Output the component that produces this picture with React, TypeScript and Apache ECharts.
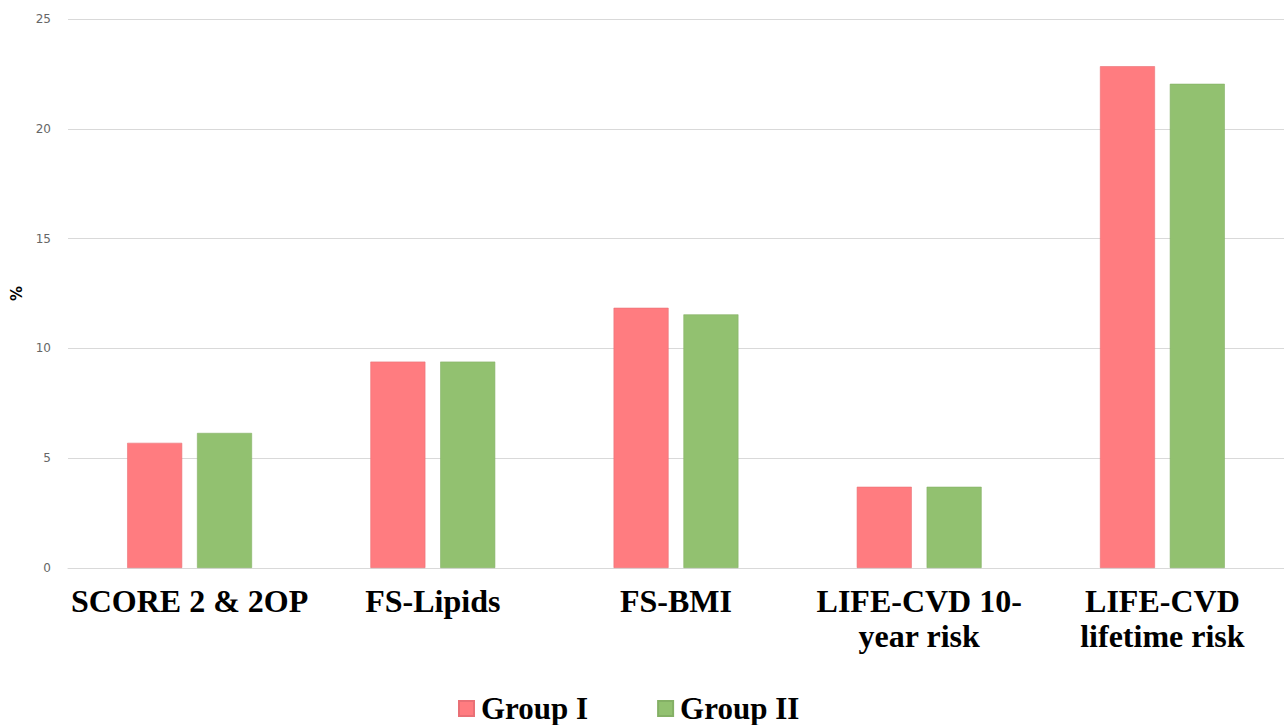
import React, { useEffect, useRef } from "react";
import * as echarts from "echarts";

const categories = [
  "SCORE 2 & 2OP",
  "FS-Lipids",
  "FS-BMI",
  "LIFE-CVD 10-\nyear risk",
  "LIFE-CVD\nlifetime risk",
];
const groupI = [5.7, 9.4, 11.85, 3.7, 22.85];
const groupII = [6.15, 9.4, 11.55, 3.7, 22.05];
const seriesNames = ["Group I", "Group II"];

export default function App() {
  const ref = useRef<HTMLDivElement>(null);
  useEffect(() => {
    document.body.style.margin = "0";
    const chart = echarts.init(ref.current!, null, { renderer: "svg" });
    chart.setOption({
      animation: false,
      backgroundColor: "#ffffff",
      grid: { left: 68, right: -4, top: 19, bottom: 157 },
      legend: {
        bottom: -4,
        left: 453,
        itemWidth: 15,
        itemHeight: 15,
        itemGap: 69,
        icon: "rect",
        textStyle: {
          fontFamily: "Liberation Serif",
          fontWeight: "bold",
          fontSize: 31,
          color: "#000",
          padding: [0, 0, 0, 2],
        },
        data: seriesNames,
      },
      xAxis: {
        type: "category",
        data: categories,
        axisTick: { show: false },
        axisLine: { lineStyle: { color: "#d9d9d9" } },
        axisLabel: {
          interval: 0,
          margin: 15,
          fontFamily: "Liberation Serif",
          fontWeight: "bold",
          fontSize: 32,
          lineHeight: 35,
          color: "#000",
        },
      },
      yAxis: {
        type: "value",
        min: 0,
        max: 25,
        interval: 5,
        name: "%",
        nameLocation: "middle",
        nameGap: 41,
        nameRotate: 90,
        nameTextStyle: { fontWeight: "bold", fontSize: 15, color: "#000", fontFamily: "DejaVu Sans" },
        axisLine: { show: false },
        axisTick: { show: false },
        axisLabel: { color: "#666666", fontSize: 12, margin: 17, fontFamily: "DejaVu Sans" },
        splitLine: { lineStyle: { color: "#d9d9d9" } },
      },
      series: [
        {
          name: seriesNames[0],
          type: "bar",
          data: groupI,
          barWidth: 55,
          barGap: "27%",
          itemStyle: { color: "#ff7c80", borderColor: "#e97076", borderWidth: 0.6 },
        },
        {
          name: seriesNames[1],
          type: "bar",
          data: groupII,
          barWidth: 55,
          itemStyle: { color: "#92c170", borderColor: "#84b065", borderWidth: 0.6 },
        },
      ],
    });
    return () => chart.dispose();
  }, []);
  return <div ref={ref} style={{ width: 1284, height: 725 }} />;
}
